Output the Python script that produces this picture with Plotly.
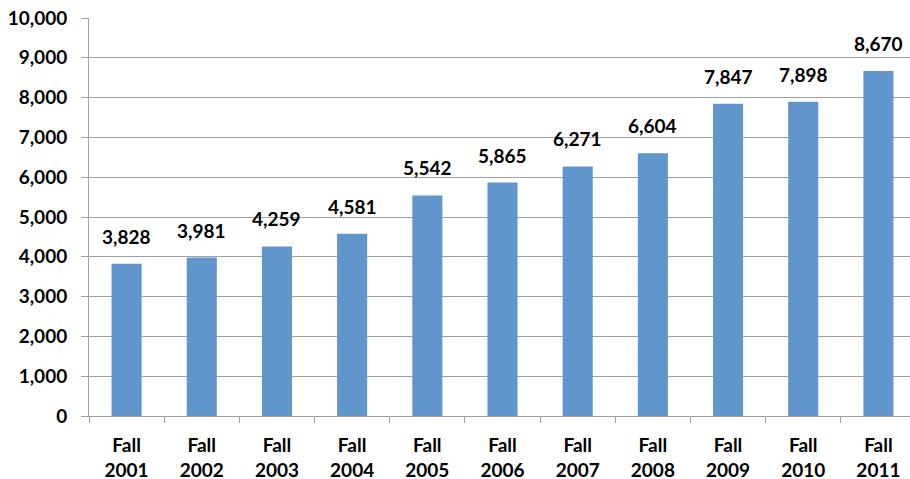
import plotly.graph_objects as go

# enrollment by fall term
years = ["2001", "2002", "2003", "2004", "2005", "2006", "2007", "2008", "2009", "2010", "2011"]
enrollment = [3828, 3981, 4259, 4581, 5542, 5865, 6271, 6604, 7847, 7898, 8670]
y_ticks = [0, 1000, 2000, 3000, 4000, 5000, 6000, 7000, 8000, 9000, 10000]

cats = ["Fall<br>" + y for y in years]
font = dict(family="Lato, Calibri, sans-serif", size=19, color="black", weight="bold")
grey = "#A0A0A0"

fig = go.Figure(go.Bar(x=cats, y=enrollment, marker=dict(color="#6096CB", line=dict(width=0)),
                       hoverinfo="skip"))

# value labels above the bars
for c, v in zip(cats, enrollment):
    fig.add_annotation(x=c, y=v, text="{:,}".format(v), showarrow=False,
                       yanchor="bottom", yshift=14, font=font)

fig.update_layout(
    width=910, height=479,
    margin=dict(l=89, r=0, t=18, b=63),
    plot_bgcolor="white", paper_bgcolor="white",
    bargap=0.6, showlegend=False,
    xaxis=dict(type="category", range=[-0.5, 10.42], tickfont=font, automargin=False,
               ticks="outside", tickson="boundaries", ticklen=6, tickcolor=grey, tickwidth=1,
               ticklabelstandoff=12,
               showline=True, linecolor=grey, linewidth=1, showgrid=False),
    yaxis=dict(range=[0, 10000], tickvals=y_ticks, tickformat=",", tickfont=font, automargin=False,
               ticks="outside", ticklen=7, tickcolor=grey, tickwidth=1,
               ticklabelstandoff=10,
               showline=True, linecolor=grey, linewidth=1,
               showgrid=True, gridcolor=grey, gridwidth=1, zeroline=False),
)

# page body has a default 8px margin; drop it so the figure fills the window
fig.write_html("out.html", config={"displayModeBar": False},
               post_script="document.body.style.margin='0';")
